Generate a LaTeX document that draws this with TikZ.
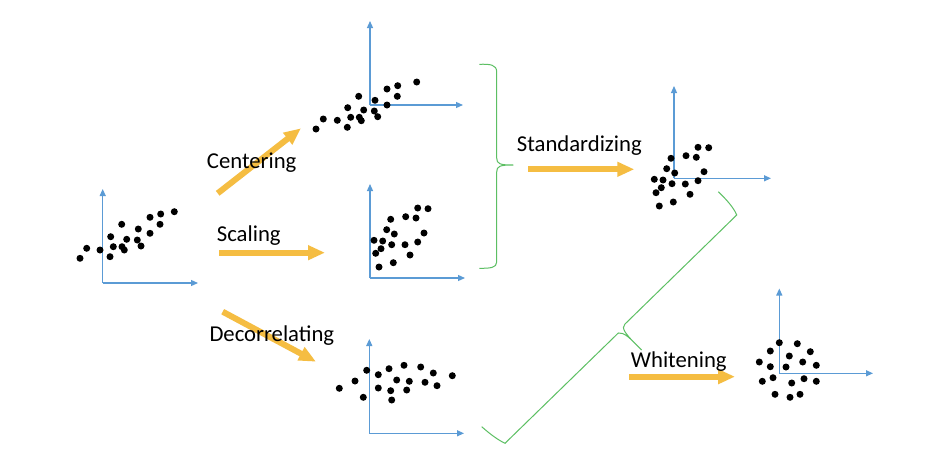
\documentclass[tikz,border=0pt]{standalone}
\usepackage{fontspec}
\setmainfont{Carlito}
\usetikzlibrary{arrows.meta}
\definecolor{axisblue}{HTML}{5B9BD5}
\definecolor{gold}{HTML}{F5BD42}
\definecolor{bracegreen}{HTML}{5CBF63}
\tikzset{
  axisline/.style={draw=axisblue, line width=1.2pt, -{Triangle[length=7pt,width=6pt]}},
  bigarrow/.style={draw=gold, line width=6pt, -{Triangle[length=17pt,width=14pt]}},
  lbl/.style={anchor=base west, inner sep=0pt, font=\fontsize{22.7}{27}\selectfont},
  bracepath/.style={draw=bracegreen, line width=1pt},
  dot/.style={fill=black}
}
\newcommand{\axes}[4]{% x0, ytop, ybottom, xright
  \draw[axisline] (#1,#3) -- (#1,#2);
  \draw[axisline] (#1,#3) -- (#4,#3);
}
\begin{document}
\begin{tikzpicture}[x=1pt,y=-1pt]
\useasboundingbox (0,0) rectangle (934,458);
\fill[white] (0,0) rectangle (934,458);

% plot 1 original
\axes{102.7}{189}{283}{198}
\foreach \x/\y in {80/258.3,86.7/248.3,100/250,110/256.7,113.3/246.7,110.7/236.7,121.7/224.3,122/246.7,124.3/250,126.7/239.3,138.3/229,137.3/240,141/246,150/217.3,150/233.3,160.7/214,160/224.3,174.3/211.7}
  \fill[dot] (\x,\y) circle (3.5);

% plot 2 centering
\axes{370}{21}{105}{463}
\foreach \x/\y in {316/129,323.3/119,337.3/120.3,347.3/127.3,350.7/117.3,347.7/107.7,358.7/96.3,359.3/117.3,361.3/120.7,363.7/110,375/100.3,374.3/111,377.7/116.7,387/89,387/105,397.7/85.7,397.3/96.3,416.7/82}
  \fill[dot] (\x,\y) circle (3.5);

% plot 3 scaling
\axes{370}{184}{278}{465}
\foreach \x/\y in {374/240.3,375.7/253.3,379/267,381/248.7,382.7/241,386.7/229.7,390.7/219.3,391.7/244.7,394.3/234,393.3/262.7,405/244.7,405.7/216.7,410/255,416/218,417.7/242,417.7/208,424/233,428/208.7}
  \fill[dot] (\x,\y) circle (3.5);

% plot 4 decorrelating
\axes{369.3}{339}{433.3}{464}
\foreach \x/\y in {339.3/388.3,355/381,363.3/397.3,366.7/370.3,378.3/374.7,378.3/388,389/368.7,390.7/390.7,391.7/400,396.7/380,404/365.3,406.7/390,409.3/381.3,420.7/367,425/382.3,433.3/373,437/385.7,452.3/375.7}
  \fill[dot] (\x,\y) circle (3.5);

% plot 5 standardizing
\axes{674}{86}{178.3}{771}
\foreach \x/\y in {654.3/179.3,656/192.7,659.3/206,661.3/187.7,663/180,666.7/168.7,671/158.3,672/183.7,674.7/173,673.3/202,685.3/184,686/155.7,690/194.3,696.3/157.3,698/147.3,698/180.7,704/171.7,708.7/147.7}
  \fill[dot] (\x,\y) circle (3.5);

% plot 6 whitening
\axes{779.3}{288.5}{373.3}{873}
\foreach \x/\y in {759.3/362,762.3/381.3,770.3/351,770.3/366.7,773/377.7,775/394.3,779.3/342.7,786/367,789.3/356,790/397.3,791.7/383,797.3/343.7,800/394.3,802.7/362,804/378.7,810.3/351.7,816.3/365.3,816.3/381.3}
  \fill[dot] (\x,\y) circle (3.5);

% arrows
\coordinate (cA) at (217.7,193.3); \coordinate (cB) at (301,128.3);
\coordinate (sA) at (219.3,252.7); \coordinate (sB) at (325,252.7);
\coordinate (dA) at (222.7,311.7); \coordinate (dB) at (316,361.7);
\coordinate (stA) at (528.3,169.3); \coordinate (stB) at (634.3,169.3);
\coordinate (wA) at (629.3,376.7); \coordinate (wB) at (735,376.7);
\draw[bigarrow] (cA) -- (cB);
\draw[bigarrow] (sA) -- (sB);
\draw[bigarrow] (dA) -- (dB);
\draw[bigarrow] (stA) -- (stB);
\draw[bigarrow] (wA) -- (wB);

% labels
\node[lbl] (centering) at (206.7,168) {Centering};
\node[lbl] (scaling) at (216.7,241) {Scaling};
\node[lbl] (decorrelating) at (209.3,341.5) {Decorrelating};
\node[lbl] (standardizing) at (516.7,151) {Standardizing};
\node[lbl] (whitening) at (630.7,367.3) {Whitening};

% braces
\draw[bracepath] (479.3,64.3) .. controls (490,64) and (496.7,64.5) .. (496.7,72)
  -- (496.7,158) .. controls (496.7,164) and (500,165) .. (513.3,165)
  .. controls (500,165) and (496.7,166) .. (496.7,172)
  -- (496.7,262) .. controls (496.7,268) and (490,268.3) .. (479.3,268.3);
\draw[bracepath] (718.3,191.7) .. controls (726,199) and (734,208) .. (736.7,215)
  -- (625,324) .. controls (621,328) and (624,333) .. (641.7,350)
  .. controls (630,338) and (624,332) .. (618.3,333)
  -- (505,443.3) .. controls (498,440) and (490,434) .. (481.7,426.7);
\end{tikzpicture}
\end{document}
